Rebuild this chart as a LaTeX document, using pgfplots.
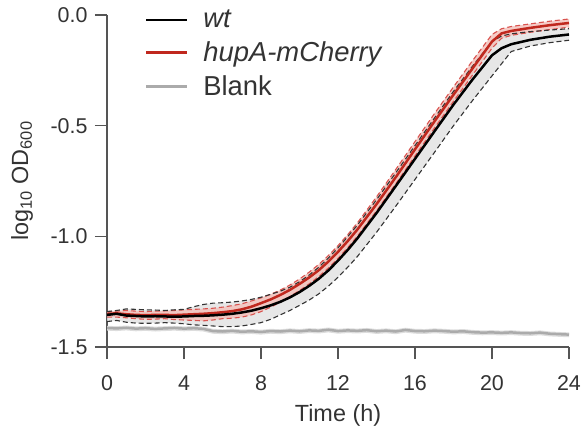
\documentclass[border=0pt]{standalone}
\usepackage{pgfplots}
\pgfplotsset{compat=1.18}
\usepackage{pgfplotstable}
\usepgfplotslibrary{fillbetween}
\usepackage{fontspec}
\setmainfont{Liberation Sans}
\setsansfont{Liberation Sans}
\definecolor{axgray}{HTML}{555555}
\definecolor{tickgray}{HTML}{333333}
\definecolor{hupred}{HTML}{C0281E}
\definecolor{hupdash}{HTML}{D9534F}
\definecolor{pinkband}{HTML}{F4C2BC}
\definecolor{grayband}{HTML}{E3E3E3}
\definecolor{blankline}{HTML}{ABABAB}
\definecolor{blankband}{HTML}{DDDDDD}

\pgfplotstableread{
t    wt      wtlo    wthi    hup     huplo   huphi
0    -1.355  -1.385  -1.340  -1.350  -1.365  -1.340
0.5  -1.350  -1.380  -1.335  -1.348  -1.365  -1.338
1    -1.358  -1.388  -1.328  -1.352  -1.368  -1.335
1.5  -1.360  -1.392  -1.330  -1.355  -1.372  -1.338
2    -1.362  -1.393  -1.332  -1.356  -1.375  -1.340
2.5  -1.361  -1.392  -1.333  -1.355  -1.374  -1.338
3    -1.362  -1.390  -1.335  -1.355  -1.372  -1.337
3.5  -1.363  -1.392  -1.332  -1.356  -1.376  -1.335
4    -1.362  -1.395  -1.330  -1.354  -1.378  -1.332
4.5  -1.360  -1.400  -1.318  -1.352  -1.380  -1.330
5    -1.359  -1.402  -1.308  -1.350  -1.382  -1.328
5.5  -1.357  -1.405  -1.302  -1.347  -1.378  -1.325
6    -1.354  -1.408  -1.300  -1.343  -1.372  -1.320
6.5  -1.350  -1.408  -1.297  -1.338  -1.370  -1.313
7    -1.344  -1.405  -1.292  -1.330  -1.365  -1.305
7.5  -1.336  -1.398  -1.285  -1.318  -1.355  -1.292
8    -1.325  -1.390  -1.275  -1.302  -1.340  -1.278
8.5  -1.312  -1.375  -1.262  -1.285  -1.320  -1.262
9    -1.296  -1.355  -1.248  -1.265  -1.298  -1.243
9.5  -1.276  -1.335  -1.230  -1.242  -1.272  -1.220
10   -1.252  -1.312  -1.205  -1.215  -1.245  -1.193
10.5 -1.224  -1.288  -1.175  -1.186  -1.215  -1.162
11   -1.192  -1.260  -1.140  -1.153  -1.182  -1.127
11.5 -1.154  -1.225  -1.098  -1.114  -1.143  -1.087
12   -1.110  -1.185  -1.052  -1.070  -1.100  -1.042
12.5 -1.062  -1.140  -1.002  -1.022  -1.052  -0.993
13   -1.010  -1.092  -0.950  -0.970  -1.000  -0.940
14   -0.895  -0.982  -0.835  -0.855  -0.885  -0.822
15   -0.773  -0.864  -0.713  -0.733  -0.763  -0.698
16   -0.650  -0.743  -0.590  -0.607  -0.637  -0.572
17   -0.527  -0.622  -0.467  -0.482  -0.512  -0.447
18   -0.405  -0.500  -0.345  -0.360  -0.390  -0.325
19   -0.290  -0.385  -0.230  -0.240  -0.270  -0.205
20   -0.182  -0.275  -0.120  -0.120  -0.150  -0.088
20.5 -0.150  -0.220  -0.095  -0.083  -0.105  -0.062
21   -0.132  -0.165  -0.085  -0.072  -0.092  -0.052
22   -0.112  -0.140  -0.075  -0.058  -0.078  -0.040
23   -0.098  -0.125  -0.068  -0.046  -0.066  -0.028
24   -0.088  -0.114  -0.062  -0.036  -0.055  -0.018
}\growth

\pgfplotstableread{
t m lo hi
0 -1.414 -1.426 -1.404
0.5 -1.416 -1.428 -1.406
1 -1.413 -1.425 -1.403
1.5 -1.417 -1.429 -1.407
2 -1.415 -1.427 -1.405
2.5 -1.418 -1.430 -1.408
3 -1.416 -1.428 -1.406
3.5 -1.414 -1.426 -1.404
4 -1.417 -1.429 -1.407
4.5 -1.415 -1.427 -1.405
5 -1.418 -1.430 -1.408
5.5 -1.428 -1.440 -1.418
6 -1.430 -1.442 -1.420
6.5 -1.427 -1.439 -1.417
7 -1.431 -1.443 -1.421
7.5 -1.429 -1.441 -1.419
8 -1.432 -1.444 -1.422
8.5 -1.428 -1.440 -1.418
9 -1.430 -1.442 -1.420
9.5 -1.426 -1.438 -1.416
10 -1.429 -1.441 -1.419
10.5 -1.425 -1.437 -1.415
11 -1.427 -1.439 -1.417
11.5 -1.422 -1.434 -1.412
12 -1.428 -1.440 -1.418
12.5 -1.425 -1.437 -1.415
13 -1.427 -1.439 -1.417
13.5 -1.424 -1.436 -1.414
14 -1.429 -1.441 -1.419
14.5 -1.426 -1.438 -1.416
15 -1.430 -1.442 -1.420
15.5 -1.423 -1.435 -1.413
16 -1.428 -1.440 -1.418
16.5 -1.429 -1.441 -1.419
17 -1.426 -1.438 -1.416
17.5 -1.428 -1.440 -1.418
18 -1.431 -1.443 -1.421
18.5 -1.429 -1.441 -1.419
19 -1.433 -1.445 -1.423
19.5 -1.435 -1.447 -1.425
20 -1.434 -1.446 -1.424
20.5 -1.436 -1.448 -1.426
21 -1.434 -1.446 -1.424
21.5 -1.437 -1.449 -1.427
22 -1.438 -1.450 -1.428
22.5 -1.435 -1.447 -1.425
23 -1.440 -1.452 -1.430
23.5 -1.442 -1.454 -1.432
24 -1.444 -1.456 -1.434
}\blank

\begin{document}
\begin{tikzpicture}
\begin{axis}[
  scale only axis, width=462bp, height=332bp,
  xmin=0, xmax=24, ymin=-1.5, ymax=0,
  axis lines=left,
  axis line style={-, axgray, line width=1.5bp},
  xtick={0,4,8,12,16,20,24},
  ytick={-1.5,-1,-0.5,0},
  yticklabel style={/pgf/number format/fixed, /pgf/number format/precision=1, /pgf/number format/fixed zerofill, xshift=-4bp},
  xticklabel style={yshift=-13bp},
  /pgf/number format/assume math mode=true,
  tick align=outside, major tick length=12bp,
  tick style={axgray, line width=1.5bp},
  ticklabel style={font=\fontsize{21.5}{24}\selectfont, text=tickgray},
  xlabel={Time (h)}, ylabel={log\textsubscript{10} OD\textsubscript{600}},
  label style={font=\fontsize{23.5}{26}\selectfont, text=tickgray},
  xlabel style={at={(axis description cs:0.5,-0.205)}, anchor=center},
  ylabel style={at={(axis description cs:-0.184,0.5)}, anchor=center},
  legend image code/.code={\draw[#1] (0bp,0bp) -- (41bp,0bp);},
  legend style={draw=none, fill=none, at={(axis description cs:0.075,1.03)}, anchor=north west,
    font=\fontsize{27.5}{30}\selectfont, text=tickgray, row sep=6.5bp,
    nodes={inner sep=3bp},
    /tikz/every odd column/.append style={column sep=12bp}},
  legend cell align=left,
]
% Blank
\addplot[name path=blo, draw=none, forget plot] table[x=t,y=lo]{\blank};
\addplot[name path=bhi, draw=none, forget plot] table[x=t,y=hi]{\blank};
\addplot[blankband, forget plot] fill between[of=bhi and blo];
\addplot[blankline, line width=2.5bp, forget plot] table[x=t,y=m]{\blank};
% wt band
\addplot[name path=wlo, draw=none, forget plot] table[x=t,y=wtlo]{\growth};
\addplot[name path=whi, draw=none, forget plot] table[x=t,y=wthi]{\growth};
\addplot[grayband, fill opacity=0.85, forget plot] fill between[of=whi and wlo];
% hup band
\addplot[name path=hlo, draw=none, forget plot] table[x=t,y=huplo]{\growth};
\addplot[name path=hhi, draw=none, forget plot] table[x=t,y=huphi]{\growth};
\addplot[pinkband, fill opacity=0.85, forget plot] fill between[of=hhi and hlo];
% dashed bounds
\addplot[hupdash, line width=1.1bp, dash pattern=on 5bp off 3bp, forget plot] table[x=t,y=huplo]{\growth};
\addplot[hupdash, line width=1.1bp, dash pattern=on 5bp off 3bp, forget plot] table[x=t,y=huphi]{\growth};
\addplot[tickgray, line width=1.1bp, dash pattern=on 5bp off 3bp, forget plot] table[x=t,y=wtlo]{\growth};
\addplot[tickgray, line width=1.1bp, dash pattern=on 5bp off 3bp, forget plot] table[x=t,y=wthi]{\growth};
% means
\addplot[hupred, line width=2.5bp, forget plot] table[x=t,y=hup]{\growth};
\addplot[black, line width=2.5bp, forget plot] table[x=t,y=wt]{\growth};
% legend
\addlegendimage{black, line width=2.5bp}
\addlegendentry{\itshape wt}
\addlegendimage{hupred, line width=2.5bp}
\addlegendentry{\itshape hupA-mCherry}
\addlegendimage{blankline, line width=2.5bp}
\addlegendentry{Blank}
\end{axis}
\pgfresetboundingbox
\path[use as bounding box] (-107bp,-83bp) rectangle (475bp,347bp);
\end{tikzpicture}
\end{document}
